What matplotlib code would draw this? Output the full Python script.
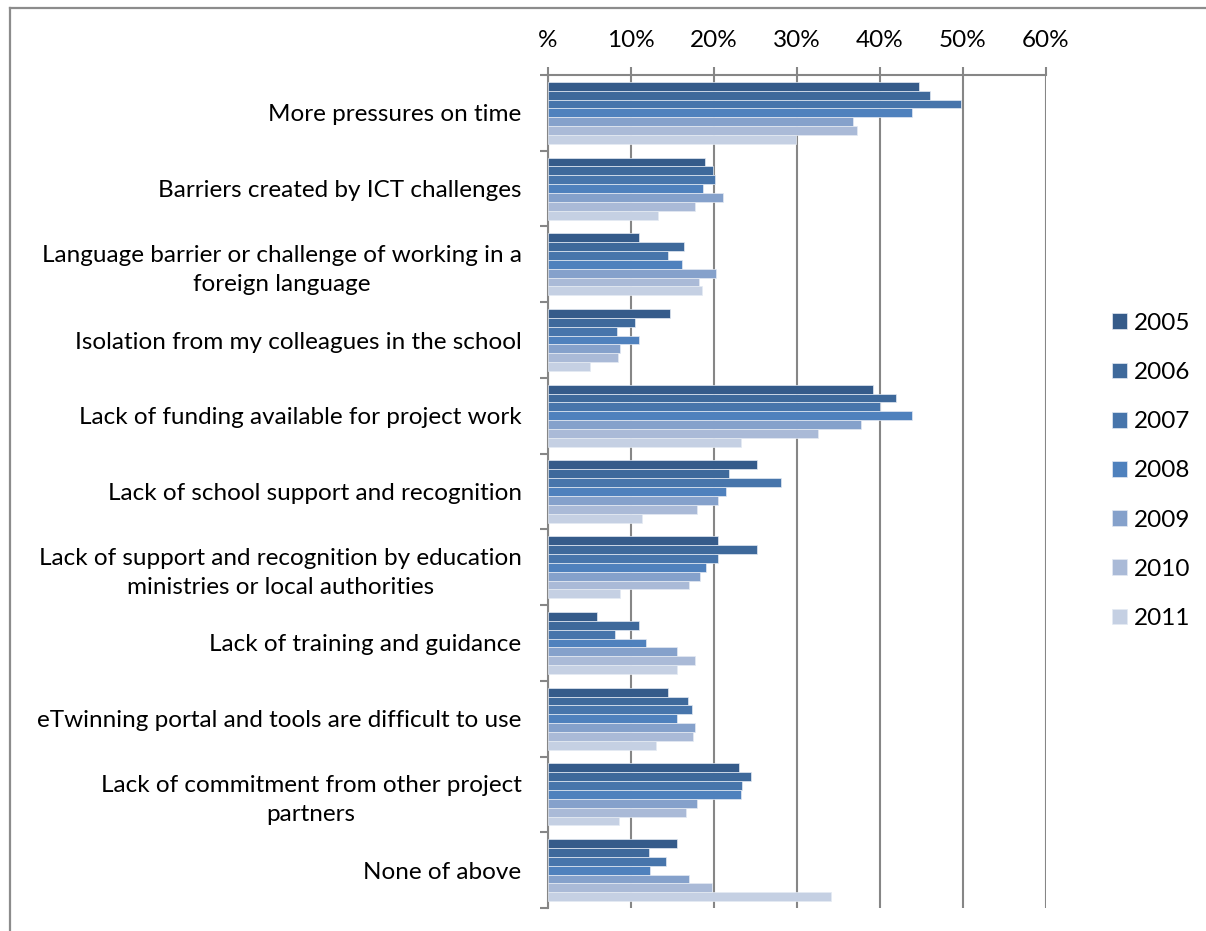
"""
Clustered horizontal bars: reported difficulties by survey year.
"""

import numpy as np
import matplotlib
matplotlib.use("Agg")
import matplotlib.pyplot as plt
from matplotlib.lines import Line2D

# Data.
categories = [
    "More pressures on time",
    "Barriers created by ICT challenges",
    "Language barrier or challenge of working in a\nforeign language",
    "Isolation from my colleagues in the school",
    "Lack of funding available for project work",
    "Lack of school support and recognition",
    "Lack of support and recognition by education\nministries or local authorities",
    "Lack of training and guidance",
    "eTwinning portal and tools are difficult to use",
    "Lack of commitment from other project\npartners",
    "None of above",
]
years = ["2005", "2006", "2007", "2008", "2009", "2010", "2011"]

v2005 = [44.7, 18.9, 11.0, 14.7, 39.2, 25.2, 20.5, 5.9, 14.5, 23.0, 15.5]
v2006 = [46.0, 19.9, 16.4, 10.5, 41.9, 21.8, 25.2, 11.0, 16.9, 24.5, 12.2]
v2007 = [49.7, 20.1, 14.5, 8.3, 40.0, 28.1, 20.5, 8.1, 17.3, 23.4, 14.2]
v2008 = [43.8, 18.7, 16.2, 11.0, 43.8, 21.5, 19.0, 11.8, 15.5, 23.3, 12.3]
v2009 = [36.7, 21.1, 20.2, 8.7, 37.7, 20.5, 18.3, 15.6, 17.7, 18.0, 17.0]
v2010 = [37.2, 17.7, 18.2, 8.4, 32.5, 18.0, 17.0, 17.7, 17.5, 16.6, 19.7]
v2011 = [29.9, 13.2, 18.5, 5.0, 23.3, 11.3, 8.7, 15.6, 13.0, 8.5, 34.1]
series = [v2005, v2006, v2007, v2008, v2009, v2010, v2011]

colors = ["#355B8A", "#3E699B", "#4775AB", "#4F81BD", "#85A1CB", "#AABAD7", "#C5D0E3"]

xticks = [0, 10, 20, 30, 40, 50, 60]
xticklabels = ["%", "10%", "20%", "30%", "40%", "50%", "60%"]

plt.rcParams["font.family"] = ["Lato", "DejaVu Sans"]
GRID = "#868686"
FS = 17.5

fig = plt.figure(figsize=(12.06, 9.31), dpi=100)
ax = fig.add_axes([548 / 1206, 1 - 908 / 931, (1046 - 548) / 1206, (908 - 75) / 931])

n = len(series)
h = 0.117
y = np.arange(len(categories))
for i, (vals, c) in enumerate(zip(series, colors)):
    ax.barh(y + (i - (n - 1) / 2) * h, vals, height=h, color=c,
            edgecolor="#E4EAF3", linewidth=0.5, label=years[i], zorder=3)

ax.set_xlim(0, 60)
ax.set_ylim(len(categories) - 0.5, -0.5)

# Top axis with percent labels.
ax.xaxis.tick_top()
ax.set_xticks(xticks)
ax.set_xticklabels(xticklabels, fontsize=FS)
ax.tick_params(axis="x", direction="out", length=6, width=1.5, color=GRID, pad=11)
ax.grid(axis="x", color=GRID, linewidth=1.5, zorder=0)

# Category labels centred on groups, ticks on group boundaries.
ax.set_yticks(y)
ax.set_yticklabels(categories, fontsize=FS)
for lbl in ax.get_yticklabels():
    lbl.set_multialignment("center")
    lbl.set_linespacing(1.45)
ax.tick_params(axis="y", which="major", length=0, pad=19)
ax.set_yticks(np.arange(len(categories) + 1) - 0.5, minor=True)
ax.tick_params(axis="y", which="minor", direction="out", length=6, width=1.5, color=GRID)

for side in ["right", "bottom"]:
    ax.spines[side].set_visible(False)
for side in ["top", "left"]:
    ax.spines[side].set_color(GRID)
    ax.spines[side].set_linewidth(1.5)
ax.spines["top"].set_zorder(4)

leg = fig.legend(loc="center left", bbox_to_anchor=(1090 / 1206, 1 - 471 / 931),
                 frameon=False, fontsize=FS, handlelength=0.62, handleheight=0.62,
                 handletextpad=0.3, labelspacing=1.16)

# Outer chart border.
fig.add_artist(Line2D([10 / 1206, 1.0], [1 - 8 / 931, 1 - 8 / 931], color="#8C8C8C", linewidth=1.6))
fig.add_artist(Line2D([10 / 1206, 10 / 1206], [0.0, 1 - 8 / 931], color="#8C8C8C", linewidth=1.6))

fig.savefig("out.png", dpi=100)
